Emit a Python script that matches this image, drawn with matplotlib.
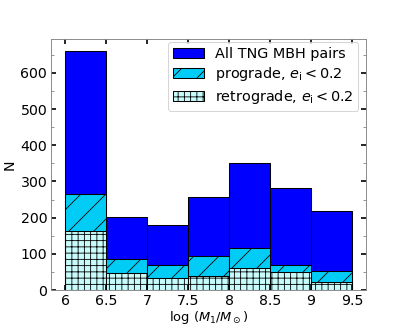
import numpy as np
import matplotlib
matplotlib.use("Agg")
import matplotlib.pyplot as plt
from matplotlib.ticker import MultipleLocator

bin_edges = [6.0, 6.5, 7.0, 7.5, 8.0, 8.5, 9.0, 9.5]
all_pairs = [660, 201, 179, 256, 352, 281, 219]
prograde = [265, 85, 69, 94, 116, 70, 53]
retrograde = [164, 48, 34, 38, 61, 50, 23]
labels = ["All TNG MBH pairs", r"prograde, $e_{\rm i} < 0.2$", r"retrograde, $e_{\rm i} < 0.2$"]
xticks = [6, 6.5, 7, 7.5, 8, 8.5, 9, 9.5]
xticklabels = ["6", "6.5", "7", "7.5", "8", "8.5", "9", "9.5"]

plt.rcParams['hatch.linewidth'] = 0.8
fig = plt.figure(figsize=(407/75, 326/75), dpi=75)
ax = fig.add_subplot(111)

left = np.array(bin_edges[:-1])
widths = np.diff(bin_edges)
ax.bar(left, all_pairs, width=widths, align='edge', color='#0000ff',
       edgecolor='black', linewidth=1.0, label=labels[0])
ax.bar(left, prograde, width=widths, align='edge', color='#00ccf5',
       edgecolor='black', linewidth=1.0, hatch='/', label=labels[1])
ax.bar(left, retrograde, width=widths, align='edge', color='#c8fbfb',
       edgecolor='black', linewidth=1.0, hatch='++', label=labels[2])

ax.set_xticks(xticks)
ax.set_xticklabels(xticklabels)
ax.yaxis.set_minor_locator(MultipleLocator(50))
ax.tick_params(which='major', direction='in', length=5, width=1.6,
               top=True, right=True, labelsize=13.5)
ax.tick_params(which='minor', direction='in', length=3, width=0.8,
               color='gray', top=False, right=True)
for s in ax.spines.values():
    s.set_color('#888888')
    s.set_linewidth(0.9)

ax.set_xlabel(r"$\log\,(M_1/M_\odot)$", fontsize=12.5, labelpad=1)
ax.set_ylabel("N", fontsize=13.5)
ax.legend(loc='upper right', bbox_to_anchor=(0.975, 0.99), borderaxespad=0,
          fontsize=13.8, handlelength=2.1, labelspacing=0.32, borderpad=0.35,
          handletextpad=0.8)

fig.savefig("out.png", dpi=75)
